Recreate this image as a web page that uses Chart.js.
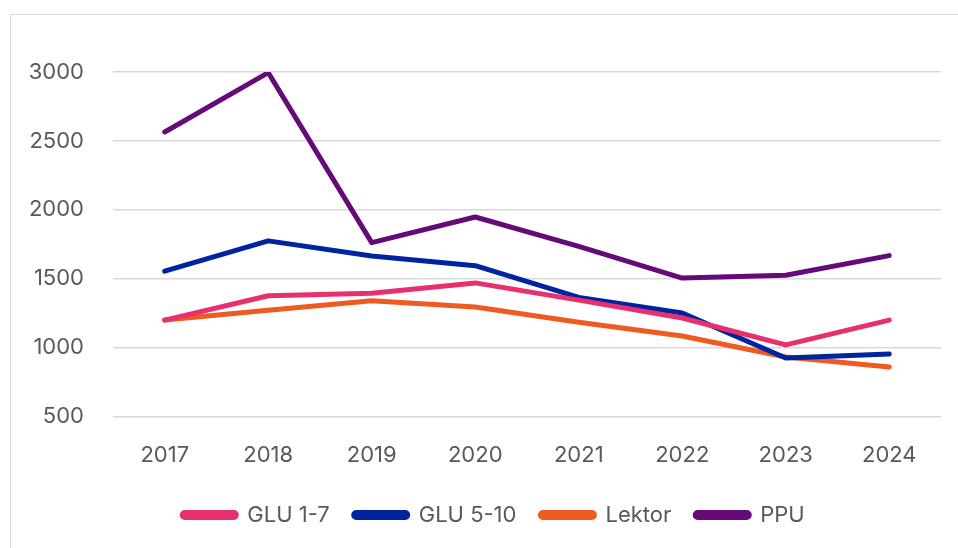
<!DOCTYPE html>
<html>
<head>
<meta charset="utf-8">
<script src="https://cdn.jsdelivr.net/npm/chart.js@4.4.1/dist/chart.umd.min.js"></script>
<style>
  html, body { margin: 0; padding: 0; background: #ffffff; }
  #frame { position: absolute; left: 10px; top: 14px; width: 960px; height: 540px;
           border-left: 1.5px solid #d9d9d9; border-top: 1.5px solid #d9d9d9; box-sizing: border-box; }
  #wrap { position: absolute; left: 0; top: 0; width: 958px; height: 548px; }
</style>
</head>
<body>
<div id="frame"></div>
<div id="wrap"><canvas id="c" width="958" height="548"></canvas></div>
<script>
const categories = ["2017", "2018", "2019", "2020", "2021", "2022", "2023", "2024"];
const glu17   = [1200, 1377, 1395, 1470, 1345, 1215, 1020, 1200];
const glu510  = [1555, 1775, 1665, 1595, 1365, 1252, 925, 955];
const lektor  = [1200, 1272, 1340, 1295, 1185, 1085, 932, 860];
const ppu     = [2565, 2995, 1762, 1948, 1735, 1505, 1525, 1668];
const yTicks  = [500, 1000, 1500, 2000, 2500, 3000];

const FONT = "Inter, 'DejaVu Sans', sans-serif";
const TXT = "#595959";

function ds(label, data, color) {
  return {
    label, data,
    borderColor: color, backgroundColor: color,
    borderWidth: 5, pointRadius: 0, pointHoverRadius: 0,
    tension: 0, borderCapStyle: 'round', borderJoinStyle: 'round'
  };
}

const legendShift = {
  id: 'legendShift',
  afterLayout(chart) {
    if (chart.legend) { chart.legend.left += 23; chart.legend.right += 23; }
  }
};

new Chart(document.getElementById('c'), {
  type: 'line',
  data: {
    labels: categories,
    datasets: [
      ds("GLU 1-7", glu17, "#E8306E"),
      ds("GLU 5-10", glu510, "#0024A0"),
      ds("Lektor", lektor, "#EE5A20"),
      ds("PPU", ppu, "#650B78")
    ]
  },
  plugins: [legendShift],
  options: {
    responsive: false,
    animation: false,
    layout: { padding: { left: 0, right: 17, top: 72, bottom: 12 } },
    plugins: {
      tooltip: { enabled: false },
      legend: {
        position: 'bottom',
        labels: {
          color: TXT,
          font: { family: FONT, size: 22 },
          boxWidth: 54, boxHeight: 5,
          useBorderRadius: true, borderRadius: 2.5,
          padding: 24
        }
      }
    },
    scales: {
      x: {
        offset: true,
        grid: { display: false },
        border: { display: false },
        ticks: { color: TXT, font: { family: FONT, size: 22 }, padding: 18 },
        afterFit: (s) => { s.height -= 7; }
      },
      y: {
        min: 500, max: 3000,
        afterBuildTicks: (ax) => { ax.ticks = yTicks.map(v => ({ value: v })); },
        afterFit: (s) => { s.width = 113; },
        grid: { color: "#d9d9d9", lineWidth: 1.5, drawTicks: false },
        border: { display: false },
        ticks: { color: TXT, font: { family: FONT, size: 22 }, padding: 29,
                 callback: (v) => String(v) }
      }
    }
  }
});
</script>
</body>
</html>
